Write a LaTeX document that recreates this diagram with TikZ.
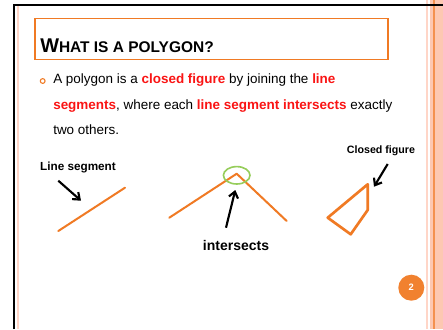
\documentclass[tikz,border=0pt]{standalone}
\usepackage{fontspec}
\setmainfont{Liberation Sans}
\usetikzlibrary{arrows.meta}

\definecolor{slideorange}{RGB}{240,122,36}
\definecolor{keyred}{RGB}{250,20,20}
\definecolor{salmon}{RGB}{253,200,178}
\definecolor{palepink}{RGB}{255,214,200}
\definecolor{ringgreen}{RGB}{150,205,90}

\newcommand{\redbf}[1]{\textcolor{keyred}{\textbf{#1}}}

\tikzset{
    seg/.style={slideorange, line width=1.5pt, line cap=round, line join=round},
    pointer/.style={-{Straight Barb[length=4.5pt,width=7pt]}, line width=1.6pt},
    bodytext/.style={anchor=base west, inner sep=0pt, font=\fontsize{10.1}{12}\selectfont},
    labeltext/.style={anchor=base, inner sep=0pt, font=\bfseries},
}

\begin{document}
\begin{tikzpicture}[x=0.75pt,y=-0.75pt]

    \useasboundingbox (0,0) rectangle (443,329);
    \fill[white] (0,0) rectangle (443,329);

    \fill[salmon] (430,0) rectangle (443,329);
    \fill[slideorange!70!salmon] (433.3,0) rectangle (435.3,329);
    \fill[palepink] (426,0) rectangle (427.8,329);
    \fill[palepink] (17.3,5) rectangle (19,329);
    \draw[line width=1.5pt] (14,329) -- (14,4.8) -- (443,4.8);

    \draw[slideorange, line width=0.8pt] (35,18.3) rectangle (388,59.3);
    \node[anchor=base west, inner sep=0pt] (title) at (40,52.7)
        {\bfseries{\fontsize{14.9}{17}\selectfont W}{\fontsize{11.6}{13}\selectfont HAT IS A POLYGON?}};

    \draw[slideorange, line width=0.8pt] (42.7,81) circle (2.4);
    \node[bodytext] (line1) at (53,83.5) {A polygon is a \redbf{closed figure} by joining the \redbf{line}};
    \node[bodytext] (line2) at (53,109) {\redbf{segments}, where each \redbf{line segment intersects} exactly};
    \node[bodytext] (line3) at (53,134.5) {two others.};

    \node[labeltext, font=\bfseries\fontsize{8.8}{10}\selectfont] (seglabel) at (78,170.7) {Line segment};
    \coordinate (segA) at (58.3,231);
    \coordinate (segB) at (125,187.7);
    \draw[seg] (segA) -- (segB);
    \coordinate (segtail) at (58.3,180.7);
    \coordinate (seghead) at (81,200.7);
    \draw[pointer] (segtail) -- (seghead);

    \coordinate (leftend) at (169.3,217.7);
    \coordinate (apex) at (236.7,173.7);
    \coordinate (rightend) at (286.7,221);
    \draw[seg] (leftend) -- (apex) -- (rightend);
    \draw[ringgreen, line width=1.2pt] (236.7,175.3) ellipse (13.3 and 8.7);
    \node[labeltext, font=\bfseries\fontsize{10.5}{12}\selectfont] (intlabel) at (236,250.7) {intersects};
    \coordinate (inttail) at (226,227.7);
    \coordinate (inthead) at (235.3,190);
    \draw[pointer] (inttail) -- (inthead);

    \node[labeltext, font=\bfseries\fontsize{8}{10}\selectfont] (closedlabel) at (381,153.3) {Closed figure};
    \coordinate (quadA) at (367.7,184.3);
    \coordinate (quadB) at (367.7,210);
    \coordinate (quadC) at (350.7,234.3);
    \coordinate (quadD) at (327.7,217.7);
    \draw[seg, line width=2pt] (quadA) -- (quadB) -- (quadC) -- (quadD) -- cycle;
    \coordinate (closedtail) at (387.7,164);
    \coordinate (closedhead) at (374,186.7);
    \draw[pointer] (closedtail) -- (closedhead);

    \node[circle, fill=slideorange!95!white, minimum size=19.5pt, inner sep=0pt, text=white,
        font=\bfseries\fontsize{7}{8}\selectfont] (pagenum) at (411.3,287.7) {2};

\end{tikzpicture}
\end{document}
